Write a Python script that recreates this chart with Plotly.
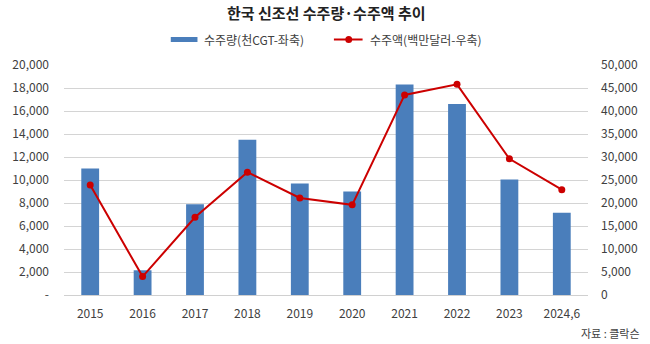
import plotly.graph_objects as go

years = ["2015", "2016", "2017", "2018", "2019", "2020", "2021", "2022", "2023", "2024,6"]
volume_kcgt = [11000, 2150, 7900, 13500, 9700, 9000, 18300, 16600, 10050, 7150]
amount_musd = [23900, 4000, 16900, 26700, 21100, 19600, 43500, 45800, 29600, 22900]

left_ticks = [0, 2000, 4000, 6000, 8000, 10000, 12000, 14000, 16000, 18000, 20000]
left_text = ["-" if v == 0 else f"{v:,}" for v in left_ticks]
right_ticks = [0, 5000, 10000, 15000, 20000, 25000, 30000, 35000, 40000, 45000, 50000]
right_text = [f"{v:,}" for v in right_ticks]

title = "한국 신조선 수주량·수주액 추이"
bar_name = "수주량(천CGT-좌축)"
line_name = "수주액(백만달러-우축)"
source = "자료 : 클락슨"

FONT = "Noto Sans CJK KR"
BLUE = "#4A7EBB"
RED = "#CC0000"
TXT = "#404040"

W, H = 650, 344
ML, MR, MT, MB = 60, 60, 65, 49
PW, PH = W - ML - MR, H - MT - MB


def px(xp):
    return (xp - ML) / PW


def py(yp):
    return (H - MB - yp) / PH


fig = go.Figure()
fig.add_trace(go.Bar(x=years, y=volume_kcgt, name=bar_name, marker_color=BLUE,
                     marker_line_width=0, width=0.34, yaxis="y", showlegend=False))
fig.add_trace(go.Scatter(x=years, y=amount_musd, name=line_name, mode="lines+markers",
                         line=dict(color=RED, width=2), marker=dict(color=RED, size=7),
                         yaxis="y2", showlegend=False))

shapes = [
    dict(type="rect", xref="paper", yref="paper", x0=px(168), x1=px(195), y0=py(42), y1=py(37),
         fillcolor=BLUE, line_width=0),
    dict(type="line", xref="paper", yref="paper", x0=px(333), x1=px(362), y0=py(39.5), y1=py(39.5),
         line=dict(color=RED, width=2)),
    dict(type="circle", xref="paper", yref="paper", x0=px(344.5), x1=px(351.5), y0=py(43), y1=py(36),
         fillcolor=RED, line_width=0),
]

annotations = [
    dict(text=f"<b>{title}</b>", xref="paper", yref="paper", x=px(325), y=py(13),
         xanchor="center", yanchor="middle", showarrow=False, font=dict(family=FONT, size=15, color="#222")),
    dict(text=bar_name, xref="paper", yref="paper", x=px(200), y=py(39.5),
         xanchor="left", yanchor="middle", showarrow=False, font=dict(family=FONT, size=12, color=TXT)),
    dict(text=line_name, xref="paper", yref="paper", x=px(367), y=py(39.5),
         xanchor="left", yanchor="middle", showarrow=False, font=dict(family=FONT, size=12, color=TXT)),
    dict(text=source, xref="paper", yref="paper", x=px(645), y=py(333),
         xanchor="right", yanchor="middle", showarrow=False, font=dict(family=FONT, size=11, color=TXT)),
]

fig.update_layout(
    width=W, height=H,
    margin=dict(l=ML, r=MR, t=MT, b=MB, pad=0),
    paper_bgcolor="white", plot_bgcolor="white",
    font=dict(family=FONT, size=12, color=TXT),
    shapes=shapes, annotations=annotations,
    xaxis=dict(type="category", range=[-0.5, len(years) - 0.5], showgrid=False, showline=True,
               linecolor="#d0d0d0", linewidth=1,
               ticks="", tickfont=dict(size=12, color=TXT), ticklabelstandoff=8),
    yaxis=dict(range=[0, 20000], tickvals=left_ticks, ticktext=left_text, showgrid=True,
               gridcolor="#d4d4d4", gridwidth=1, zeroline=False, showline=False, ticks="",
               tickfont=dict(size=12, color=TXT), ticklabelstandoff=14),
    yaxis2=dict(range=[0, 50000], tickvals=right_ticks, ticktext=right_text, overlaying="y",
                side="right", showgrid=False, zeroline=False, showline=False, ticks="",
                tickfont=dict(size=12, color=TXT), ticklabelstandoff=12),
)

fig.write_html("out.html")
